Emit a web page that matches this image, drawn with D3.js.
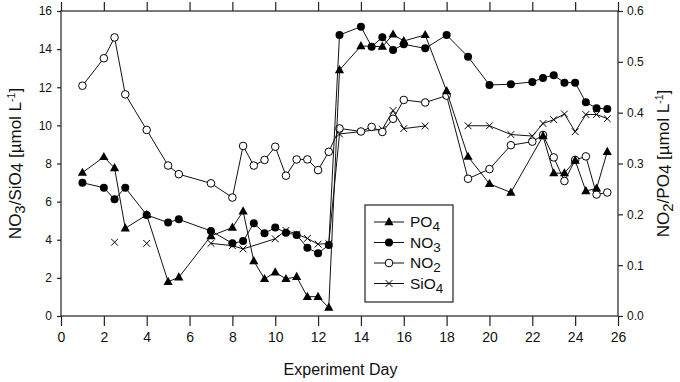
<!DOCTYPE html>
<html><head><meta charset="utf-8">
<script src="https://cdn.jsdelivr.net/npm/d3@7"></script>
<style>body{margin:0;background:#fff}svg{display:block}text{font-family:Arial,"Liberation Sans",sans-serif;fill:#111}</style>
</head><body><svg id="c" width="680" height="382"></svg>
<script>
// PO4 (right axis)
const po4Days = [1,2,2.5,3,4,5,5.5,7,8,8.5,9,9.5,10,10.5,11,11.5,12,12.5,13,14,15,15.5,16,17,18,19,20,21,22.5,23,23.5,24,24.5,25,25.5];
const po4Vals = [0.282,0.313,0.291,0.1725,0.199,0.0675,0.076,0.1575,0.174,0.206,0.108,0.073,0.086,0.073,0.077,0.038,0.038,0.0165,0.484,0.531,0.530,0.554,0.541,0.553,0.4425,0.3135,0.26,0.243,0.354,0.281,0.281,0.306,0.246,0.251,0.323];
// NO3 (left axis)
const no3Days = [1,2,2.5,3,4,5,5.5,7,8,8.5,9,9.5,10,10.5,11,11.5,12,12.5,13,14,14.5,15,15.5,16,17,18,19,20,21,22,22.5,23,23.5,24,24.5,25,25.5];
const no3Vals = [6.99,6.73,6.12,6.73,5.3,4.9,5.07,4.46,3.81,3.93,4.86,4.34,4.64,4.37,4.25,3.58,3.29,3.72,14.74,15.18,14.13,14.62,13.96,14.25,14.04,14.74,13.6,12.12,12.16,12.28,12.49,12.63,12.24,12.24,11.21,10.9,10.86];
// NO2 (right axis)
const no2Days = [1,2,2.5,3,4,5,5.5,7,8,8.5,9,9.5,10,10.5,11,11.5,12,12.5,13,14,14.5,15,15.5,16,17,18,19,20,21,22,22.5,23,23.5,24,24.5,25,25.5];
const no2Vals = [0.453,0.507,0.548,0.436,0.366,0.296,0.279,0.261,0.233,0.3345,0.296,0.307,0.333,0.276,0.308,0.308,0.287,0.323,0.369,0.363,0.372,0.362,0.388,0.425,0.420,0.4335,0.27,0.289,0.336,0.343,0.356,0.312,0.2655,0.307,0.314,0.239,0.243];
// SiO4 (left axis); null = missing sample (line gap)
const sio4Days = [2.5,3,4,5,7,8,8.5,10,10.5,11,11.5,12,12.5,13,15,15.5,16,17,18,19,20,21,22,22.5,23,23.5,24,24.5,25,25.5];
const sio4Vals = [3.87,null,3.81,null,3.81,3.69,3.52,4.05,4.49,4.3,4.07,3.77,3.8,9.55,9.8,10.78,9.83,9.97,null,9.98,9.98,9.52,9.44,10.1,10.3,10.6,9.67,10.57,10.57,10.35];

const xTicks = d3.range(0,27,2);
const yLeftTicks = d3.range(0,17,2);
const yRightTicks = [0,0.1,0.2,0.3,0.4,0.5,0.6];

const svg = d3.select("#c");
const L=61, R=618, T=11, B=316;
const x = d3.scaleLinear().domain([0,26]).range([L,R]);
const yL = d3.scaleLinear().domain([0,16]).range([B,T]);
const yR = d3.scaleLinear().domain([0,0.6]).range([B,T]);

// frame
svg.append("rect").attr("x",L).attr("y",T).attr("width",R-L).attr("height",B-T)
  .attr("fill","none").attr("stroke","#222").attr("stroke-width",1.2);

const ax = (g)=>{g.select(".domain").remove(); g.selectAll("line").attr("stroke","#222").attr("stroke-width",1.2);};
svg.append("g").attr("transform",`translate(0,${B})`)
  .call(d3.axisBottom(x).tickValues(xTicks).tickSize(10).tickPadding(6).tickFormat(d3.format("d")))
  .call(ax).selectAll("text").style("font-size","14px").style("font-family","Arial, 'Liberation Sans'").attr("fill","#111");
svg.append("g").attr("transform",`translate(0,${T})`)
  .call(d3.axisTop(x).tickValues(xTicks).tickSize(9).tickFormat(""))
  .call(ax);
svg.append("g").attr("transform",`translate(${L},0)`)
  .call(d3.axisLeft(yL).tickValues(yLeftTicks).tickSize(4).tickPadding(5).tickFormat(d3.format("d")))
  .call(ax).selectAll("text").style("font-size","12px").style("font-family","Arial, 'Liberation Sans'").attr("fill","#111");
svg.append("g").attr("transform",`translate(${R},0)`)
  .call(d3.axisRight(yR).tickValues(yRightTicks).tickSize(5).tickPadding(4).tickFormat(d3.format(".1f")))
  .call(ax).selectAll("text").style("font-size","12px").style("font-family","Arial, 'Liberation Sans'").attr("fill","#111");

// symbols
function drawSym(g, type, cx, cy){
  if(type==="tri"){
    g.append("path").attr("d",`M${cx},${cy-5}L${cx+4.6},${cy+3.2}L${cx-4.6},${cy+3.2}Z`).attr("fill","#000");
  } else if(type==="dot"){
    g.append("circle").attr("cx",cx).attr("cy",cy).attr("r",4).attr("fill","#000");
  } else if(type==="ring"){
    g.append("circle").attr("cx",cx).attr("cy",cy).attr("r",3.8).attr("fill","#fff").attr("stroke","#000").attr("stroke-width",1);
  } else {
    g.append("path").attr("d",`M${cx-3.4},${cy-3.4}L${cx+3.4},${cy+3.4}M${cx-3.4},${cy+3.4}L${cx+3.4},${cy-3.4}`).attr("stroke","#000").attr("stroke-width",1);
  }
}
function series(days, vals, ys, type){
  const pts = days.map((d,i)=>({d, v:vals[i]}));
  const line = d3.line().defined(p=>p.v!==null).x(p=>x(p.d)).y(p=>ys(p.v));
  svg.append("path").datum(pts).attr("d",line).attr("fill","none").attr("stroke","#111").attr("stroke-width",1);
  const g = svg.append("g");
  pts.filter(p=>p.v!==null).forEach(p=>drawSym(g,type,x(p.d),ys(p.v)));
}
series(sio4Days, sio4Vals, yL, "x");
series(no2Days, no2Vals, yR, "ring");
series(no3Days, no3Vals, yL, "dot");
series(po4Days, po4Vals, yR, "tri");

// legend
const lg = svg.append("g");
lg.append("rect").attr("x",365).attr("y",205).attr("width",88).attr("height",97)
  .attr("fill","#fff").attr("stroke","#222").attr("stroke-width",1.2);
const legItems = [["tri","PO","4"],["dot","NO","3"],["ring","NO","2"],["x","SiO","4"]];
legItems.forEach((it,i)=>{
  const cy = 222 + i*20.5;
  lg.append("line").attr("x1",374).attr("x2",404).attr("y1",cy).attr("y2",cy).attr("stroke","#111");
  drawSym(lg,it[0],389,cy);
  const t = lg.append("text").attr("x",410).attr("y",cy+5).style("font-size","15.5px");
  t.append("tspan").text(it[1]);
  t.append("tspan").text(it[2]).attr("dy",4).style("font-size","13.5px");
});

// axis titles
svg.append("text").attr("x",(L+R)/2 + 1).attr("y",375).attr("text-anchor","middle").style("font-size","16px").text("Experiment Day");
function yTitle(tx, a, b){
  const t = svg.append("text").attr("transform",`translate(${tx},${(T+B)/2}) rotate(-90)`).attr("text-anchor","middle").style("font-size","17px");
  t.append("tspan").text("NO");
  t.append("tspan").text(a).attr("dy",4).style("font-size","15px");
  t.append("tspan").text("/"+b).attr("dy",-4);
  t.append("tspan").text("4").attr("dy",2);
  t.append("tspan").text(" [µmol L").attr("dy",-2);
  t.append("tspan").text("-1").attr("dy",-6).style("font-size","10.5px");
  t.append("tspan").text("]").attr("dy",6);
}
yTitle(21,"3","SiO");
yTitle(669,"2","PO");
</script></body></html>
